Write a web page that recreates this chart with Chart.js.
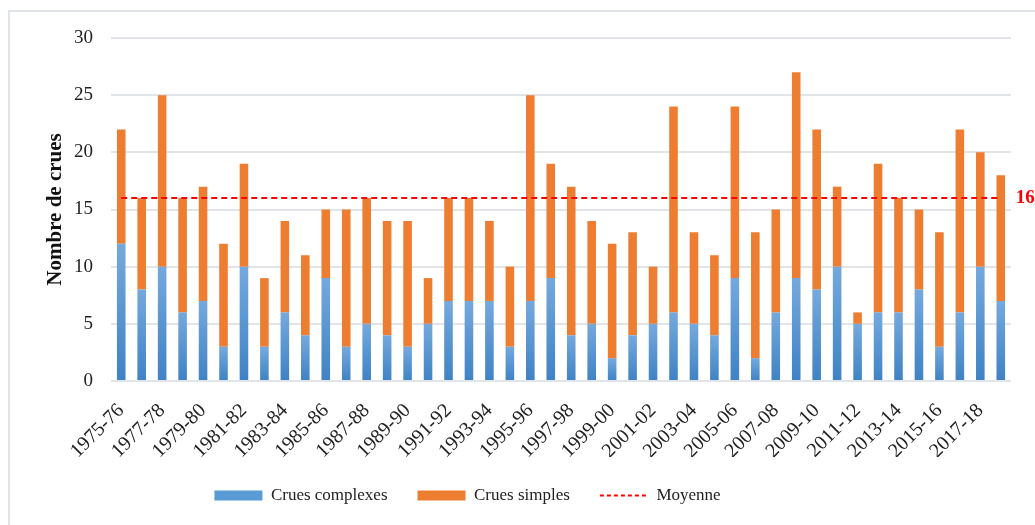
<!DOCTYPE html>
<html>
<head>
<meta charset="utf-8">
<script src="https://cdn.jsdelivr.net/npm/chart.js@4.4.1/dist/chart.umd.min.js"></script>
<style>
  html, body { margin: 0; padding: 0; background: #fff; }
  #wrap { position: relative; width: 1035px; height: 525px; overflow: hidden; }
  #frame { position: absolute; left: 8px; top: 10px; right: -10px; bottom: -10px;
           border-left: 2px solid #dfe4ea; border-top: 2px solid #dfe4ea; }
  canvas { position: absolute; left: 0; top: 0; }
</style>
</head>
<body>
<div id="wrap">
  <div id="frame"></div>
  <canvas id="chart" width="1035" height="525"></canvas>
</div>
<script>
const seasons = [
  "1975-76", "1976-77", "1977-78", "1978-79", "1979-80", "1980-81", "1981-82", "1982-83",
  "1983-84", "1984-85", "1985-86", "1986-87", "1987-88", "1988-89", "1989-90", "1990-91",
  "1991-92", "1992-93", "1993-94", "1994-95", "1995-96", "1996-97", "1997-98", "1998-99",
  "1999-00", "2000-01", "2001-02", "2002-03", "2003-04", "2004-05", "2005-06", "2006-07",
  "2007-08", "2008-09", "2009-10", "2010-11", "2011-12", "2012-13", "2013-14", "2014-15",
  "2015-16", "2016-17", "2017-18", "2018-19"
];
const complexFloods = [12, 8, 10, 6, 7, 3, 10, 3, 6, 4, 9, 3, 5, 4, 3, 5, 7, 7, 7, 3, 7, 9,
  4, 5, 2, 4, 5, 6, 5, 4, 9, 2, 6, 9, 8, 10, 5, 6, 6, 8, 3, 6, 10, 7];
const simpleFloods = [10, 8, 15, 10, 10, 9, 9, 6, 8, 7, 6, 12, 11, 10, 11, 4, 9, 9, 7, 7, 18, 10,
  13, 9, 10, 9, 5, 18, 8, 7, 15, 11, 9, 18, 14, 7, 1, 13, 10, 7, 10, 16, 10, 11];
const MEAN = 16;
const yTicks = [0, 5, 10, 15, 20, 25, 30];

const serif = '"Liberation Serif", "Times New Roman", serif';

// blue bars get a light-to-dark gradient per bar, like the Excel original
function blueFill(ctx) {
  const chart = ctx.chart;
  const y = chart.scales.y;
  if (!chart.chartArea || !y || ctx.raw == null) return '#5b9bd5';
  const top = y.getPixelForValue(ctx.raw);
  const bottom = y.getPixelForValue(0);
  if (!isFinite(top) || !isFinite(bottom) || top === bottom) return '#5b9bd5';
  const g = chart.ctx.createLinearGradient(0, top, 0, bottom);
  g.addColorStop(0, '#75a9dd');
  g.addColorStop(1, '#3f82c4');
  return g;
}

const meanLabel = {
  id: 'meanLabel',
  afterLayout(chart) {
    // legend sits left of centre in the original
    chart.legend.left -= 57;
    chart.legend.right -= 57;
  },
  afterDatasetsDraw(chart) {
    const meta = chart.getDatasetMeta(2);
    const last = meta.data[meta.data.length - 1];
    if (!last) return;
    const c = chart.ctx;
    c.save();
    c.font = 'bold 19px ' + serif;
    c.fillStyle = '#ff0000';
    c.textBaseline = 'middle';
    c.fillText(String(MEAN), last.x + 15, last.y);
    c.restore();
  }
};

new Chart(document.getElementById('chart'), {
  type: 'bar',
  data: {
    labels: seasons,
    datasets: [
      {
        label: 'Crues complexes',
        data: complexFloods,
        backgroundColor: blueFill,
        stack: 'floods',
        order: 1,
        pointStyle: 'rect',
        categoryPercentage: 1,
        barPercentage: 0.42
      },
      {
        label: 'Crues simples',
        data: simpleFloods,
        backgroundColor: '#ed7d31',
        stack: 'floods',
        order: 1,
        pointStyle: 'rect',
        categoryPercentage: 1,
        barPercentage: 0.42
      },
      {
        type: 'line',
        label: 'Moyenne',
        data: seasons.map(() => MEAN),
        borderColor: '#ff0000',
        backgroundColor: '#ff0000',
        borderWidth: 2,
        borderDash: [6, 4],
        pointRadius: 0,
        pointStyle: 'line',
        stack: 'mean',
        order: 0
      }
    ]
  },
  options: {
    responsive: false,
    animation: false,
    layout: { padding: { top: 38, right: 24, bottom: 11, left: 38 } },
    plugins: {
      legend: {
        position: 'bottom',
        labels: {
          usePointStyle: true,
          pointStyleWidth: 48,
          boxHeight: 10,
          padding: 30,
          color: '#222',
          font: { family: serif, size: 17 },
          sort: (a, b) => a.datasetIndex - b.datasetIndex,
          generateLabels(chart) {
            const items = Chart.defaults.plugins.legend.labels.generateLabels(chart);
            items.forEach(it => {
              if (it.datasetIndex === 0) it.fillStyle = '#5b9bd5';
              if (it.datasetIndex === 2) { it.lineDash = [4, 3]; it.lineWidth = 2; it.strokeStyle = '#ff0000'; }
            });
            return items;
          }
        }
      },
      tooltip: { enabled: false }
    },
    scales: {
      x: {
        stacked: true,
        grid: { display: false },
        border: { display: false },
        ticks: {
          autoSkip: false,
          maxRotation: 45,
          minRotation: 45,
          padding: 10,
          color: '#222',
          font: { family: serif, size: 20 },
          callback: (v, i) => (i % 2 === 0 ? seasons[i] : '')
        },
        afterFit(s) { s.height = 76; }
      },
      y: {
        stacked: true,
        min: yTicks[0],
        max: yTicks[yTicks.length - 1],
        afterBuildTicks(s) { s.ticks = yTicks.map(v => ({ value: v })); },
        grid: { color: '#e1e5ea', lineWidth: 2, drawTicks: false },
        border: { display: false },
        ticks: { padding: 18, color: '#222', font: { family: serif, size: 19 } },
        title: {
          display: true,
          text: 'Nombre de crues',
          color: '#111',
          font: { family: serif, size: 21, weight: 'bold' },
          padding: { top: 5, bottom: 0 }
        },
        afterFit(s) { s.width = 73; }
      }
    }
  },
  plugins: [meanLabel]
});
</script>
</body>
</html>
